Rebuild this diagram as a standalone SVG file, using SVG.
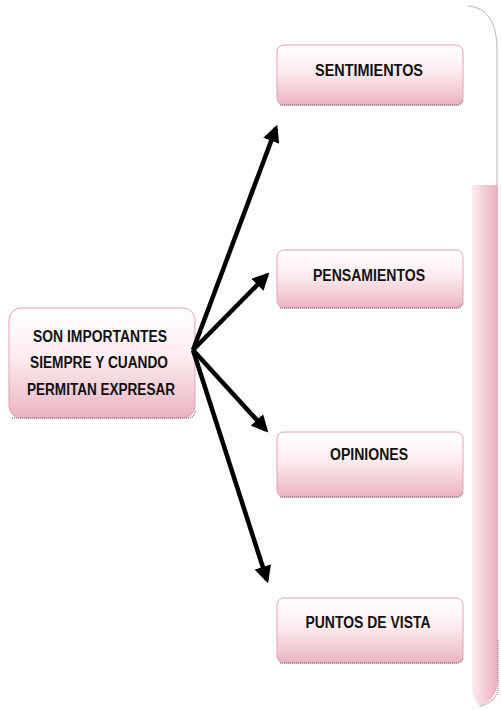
<svg xmlns="http://www.w3.org/2000/svg" width="501" height="710" viewBox="0 0 501 710">
<defs>
<linearGradient id="boxg" x1="0" y1="0" x2="0" y2="1">
<stop offset="0" stop-color="#ffffff"/>
<stop offset="0.45" stop-color="#fcecef"/>
<stop offset="1" stop-color="#ebb3c1"/>
</linearGradient>
<linearGradient id="brg" x1="0" y1="0" x2="1" y2="0">
<stop offset="0" stop-color="#fcecef"/>
<stop offset="0.5" stop-color="#f4ccd5"/>
<stop offset="1" stop-color="#e9adbb"/>
</linearGradient>
<marker id="ah" viewBox="0 0 10 10" refX="8" refY="5" markerWidth="3.8" markerHeight="3.8" orient="auto" markerUnits="strokeWidth">
<path d="M0,0 L10,5 L0,10 Z" fill="#000"/>
</marker>
</defs>
<style>
.box{fill:url(#boxg);stroke:#e3a3b3;stroke-width:1}
.shadow{fill:none;stroke:#8a8a8a;stroke-width:1.5;stroke-dasharray:1 1}
.t{font-family:"Liberation Sans",Arial,sans-serif;font-weight:bold;font-size:16px;fill:#111;text-anchor:middle}
.arr{stroke:#000;stroke-width:4.5;fill:none;marker-end:url(#ah)}
</style>
<rect width="501" height="710" fill="#fdfdfd"/>
<g id="brace">
<path d="M472 185 L498 185 L498 680 Q497 700 480 706 Q473 700 472 690 Z" fill="url(#brg)"/>
<path d="M468 6 Q497 8 497 50 L497 185" fill="none" stroke="#b8b8b8" stroke-width="1"/>
<path d="M498 640 L498 690 Q496 702 480 706" fill="none" stroke="#8a8a8a" stroke-width="1.2" stroke-dasharray="1 1"/>
</g>
<g id="center">
<rect class="box" x="9" y="308" width="186" height="110" rx="12"/>
<path class="shadow" d="M12 418 L190 418 Q195 416 196 410"/>
<text class="t" x="100" y="342" textLength="134" lengthAdjust="spacingAndGlyphs">SON IMPORTANTES</text>
<text class="t" x="99" y="368" textLength="138" lengthAdjust="spacingAndGlyphs">SIEMPRE Y CUANDO</text>
<text class="t" x="101" y="395" textLength="148" lengthAdjust="spacingAndGlyphs">PERMITAN EXPRESAR</text>
</g>
<g id="sentimientos">
<rect class="box" x="277" y="45" width="186" height="60" rx="7"/>
<path class="shadow" d="M280 105 L458 105 Q462 104 463 100"/>
<text class="t" x="369" y="76" textLength="108" lengthAdjust="spacingAndGlyphs">SENTIMIENTOS</text>
</g>
<g id="pensamientos">
<rect class="box" x="277" y="250" width="186" height="58" rx="7"/>
<path class="shadow" d="M280 308 L458 308 Q462 307 463 303"/>
<text class="t" x="369" y="281" textLength="112" lengthAdjust="spacingAndGlyphs">PENSAMIENTOS</text>
</g>
<g id="opiniones">
<rect class="box" x="277" y="432" width="186" height="65" rx="7"/>
<path class="shadow" d="M280 497 L458 497 Q462 496 463 492"/>
<text class="t" x="369" y="460" textLength="78" lengthAdjust="spacingAndGlyphs">OPINIONES</text>
</g>
<g id="puntos">
<rect class="box" x="277" y="598" width="186" height="65" rx="7"/>
<path class="shadow" d="M280 663 L458 663 Q462 662 463 658"/>
<text class="t" x="368" y="628" textLength="125" lengthAdjust="spacingAndGlyphs">PUNTOS DE VISTA</text>
</g>
<g id="connectors">
<line class="arr" x1="193" y1="350" x2="276" y2="128"/>
<line class="arr" x1="193" y1="350" x2="267" y2="275"/>
<line class="arr" x1="193" y1="350" x2="266" y2="430"/>
<line class="arr" x1="193" y1="350" x2="267" y2="580"/>
</g>
</svg>
